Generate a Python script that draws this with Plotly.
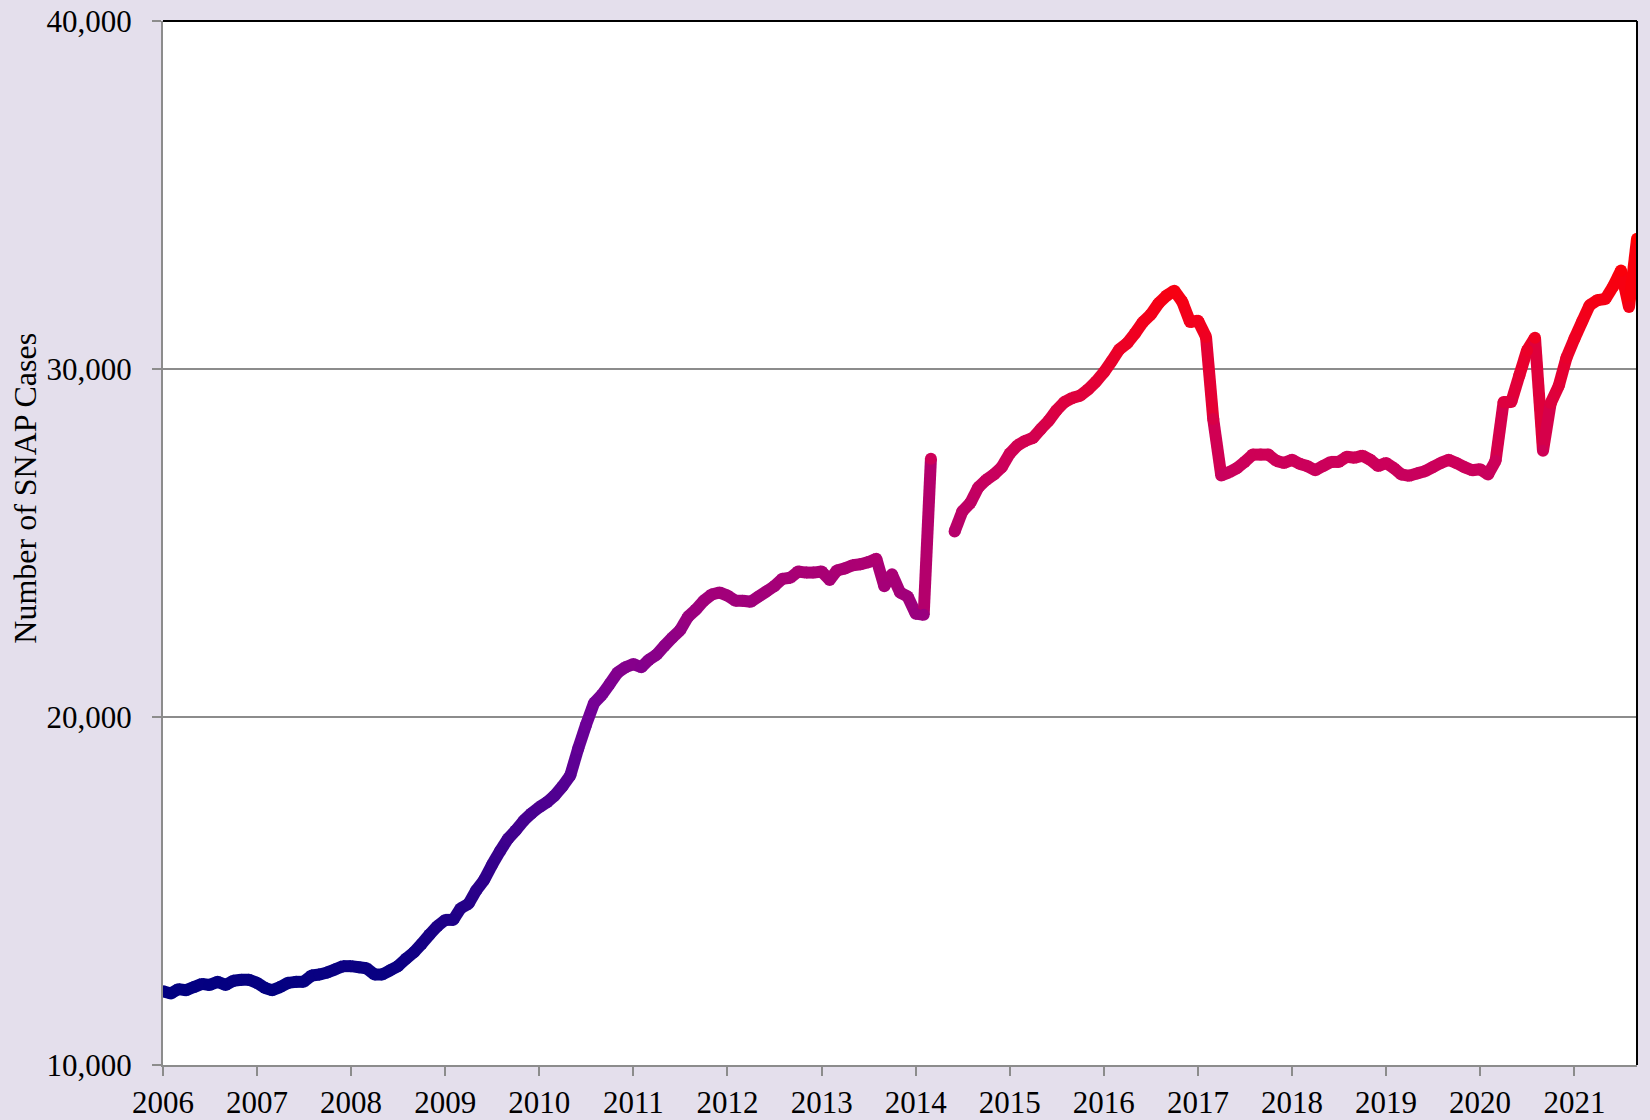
import pandas as pd
import plotly.graph_objects as go
from plotly.colors import sample_colorscale

# ---- data -------------------------------------------------------------
months = pd.date_range("2006-01-01", "2021-09-01", freq="MS")

cases_2006 = [12117, 12056, 12180, 12150, 12240, 12330, 12300, 12390, 12300, 12420, 12450, 12450]
cases_2007 = [12360, 12210, 12150, 12240, 12360, 12390, 12390, 12570, 12600, 12660, 12750, 12840]
cases_2008 = [12840, 12810, 12780, 12600, 12600, 12720, 12840, 13050, 13240, 13480, 13750, 13990]
cases_2009 = [14170, 14170, 14500, 14630, 15020, 15320, 15750, 16140, 16500, 16740, 17020, 17230]
cases_2010 = [17410, 17560, 17740, 18010, 18320, 19100, 19770, 20400, 20640, 20950, 21280, 21430]
cases_2011 = [21520, 21430, 21640, 21790, 22040, 22280, 22490, 22880, 23090, 23340, 23520, 23580]
cases_2012 = [23490, 23340, 23340, 23310, 23460, 23610, 23760, 23970, 24000, 24180, 24150, 24150]
cases_2013 = [24180, 23940, 24210, 24270, 24360, 24390, 24450, 24550, 23760, 24100, 23580, 23460]
cases_2014 = [22970, 22940, 27420, None, None, 25330, 25910, 26150, 26600, 26810, 26970, 27180]
cases_2015 = [27570, 27810, 27930, 28020, 28270, 28510, 28810, 29050, 29170, 29230, 29410, 29630]
cases_2016 = [29900, 30230, 30560, 30740, 31020, 31350, 31560, 31890, 32110, 32250, 31930, 31350]
cases_2017 = [31390, 30920, 28560, 26940, 27030, 27150, 27330, 27540, 27540, 27540, 27360, 27300]
cases_2018 = [27390, 27270, 27210, 27090, 27210, 27330, 27330, 27480, 27450, 27510, 27390, 27210]
cases_2019 = [27300, 27150, 26970, 26930, 27000, 27060, 27180, 27300, 27390, 27300, 27180, 27090]
cases_2020 = [27120, 26970, 27360, 29050, 29050, 29810, 30530, 30900, 27650, 29020, 29510, 30320]
cases_2021 = [30870, 31380, 31830, 31980, 32010, 32380, 32830, 31780, 33740]

cases = (cases_2006 + cases_2007 + cases_2008 + cases_2009 + cases_2010 + cases_2011
         + cases_2012 + cases_2013 + cases_2014 + cases_2015 + cases_2016 + cases_2017
         + cases_2018 + cases_2019 + cases_2020 + cases_2021)

year_ticks = list(range(2006, 2022))
y_ticks = [10000, 20000, 30000, 40000]
y_title = "Number of SNAP Cases"

# ---- styling ----------------------------------------------------------
FONT = "Liberation Serif, Times New Roman, serif"
BG = "#E4DFEC"
VMIN, VMAX = 12000, 33800
gradient = [
    [0.000, "rgb(0,0,128)"],
    [0.367, "rgb(112,0,152)"],
    [0.528, "rgb(162,0,122)"],
    [0.702, "rgb(204,0,90)"],
    [0.872, "rgb(240,0,32)"],
    [1.000, "rgb(255,0,0)"],
]


def color_for(v):
    t = min(max((v - VMIN) / (VMAX - VMIN), 0.0), 1.0)
    return sample_colorscale(gradient, [t])[0]


fig = go.Figure()
LW = 12

# line segments, each coloured by its mean value (vertical gradient look)
for i in range(len(cases) - 1):
    a, b = cases[i], cases[i + 1]
    if a is None or b is None:
        continue
    fig.add_trace(go.Scatter(
        x=[months[i], months[i + 1]], y=[a, b], mode="lines",
        line=dict(color=color_for((a + b) / 2), width=LW),
        hoverinfo="skip", showlegend=False,
    ))

# round joints
valid = [(m, v) for m, v in zip(months, cases) if v is not None]
fig.add_trace(go.Scatter(
    x=[m for m, _ in valid], y=[v for _, v in valid], mode="markers",
    marker=dict(size=LW, color=[color_for(v) for _, v in valid], line=dict(width=0)),
    showlegend=False, name="SNAP Cases",
))

fig.update_layout(
    width=1650, height=1120,
    paper_bgcolor=BG, plot_bgcolor="#FFFFFF",
    margin=dict(l=163, r=13, t=21, b=55),
    font=dict(family=FONT, size=31, color="#000000"),
    showlegend=False,
)

fig.update_xaxes(
    type="date",
    range=[months[0], months[-1]],
    tickvals=[pd.Timestamp(f"{y}-01-01") for y in year_ticks],
    ticktext=[str(y) for y in year_ticks],
    ticks="outside", ticklen=9, tickwidth=2, tickcolor="#8C8C8C",
    showline=True, linecolor="#8C8C8C", linewidth=2,
    showgrid=False, zeroline=False, automargin=False,
    ticklabeloverflow="allow",
    tickfont=dict(family=FONT, size=31),
)

fig.update_yaxes(
    range=[10000, 40000],
    tickvals=y_ticks, tickformat=",",
    ticks="outside", ticklen=9, tickwidth=2, tickcolor="#8C8C8C",
    showline=True, linecolor="#8C8C8C", linewidth=2,
    showgrid=True, gridcolor="#8C8C8C", gridwidth=1.5,
    zeroline=False, automargin=False,
    ticklabelstandoff=14, ticklabeloverflow="allow",
    tickfont=dict(family=FONT, size=31),
)

# y-axis title (placed slightly above centre, as in the original)
fig.add_annotation(
    text=y_title, textangle=-90, xref="paper", yref="paper",
    x=0, y=0.552, xanchor="center", yanchor="middle", xshift=-138,
    showarrow=False, font=dict(family=FONT, size=32, color="#000000"),
)

# top and right plot-area border (black)
fig.add_shape(type="line", xref="x domain", yref="y domain", x0=0, x1=1, y0=1, y1=1,
              line=dict(color="#000000", width=2))
fig.add_shape(type="line", xref="x domain", yref="y domain", x0=1, x1=1, y0=0, y1=1,
              line=dict(color="#000000", width=2))

fig.write_html(
    "out.html",
    config={"displayModeBar": False},
    post_script=("document.body.style.margin='0';"
                 "document.body.style.background='%s';" % BG),
)
